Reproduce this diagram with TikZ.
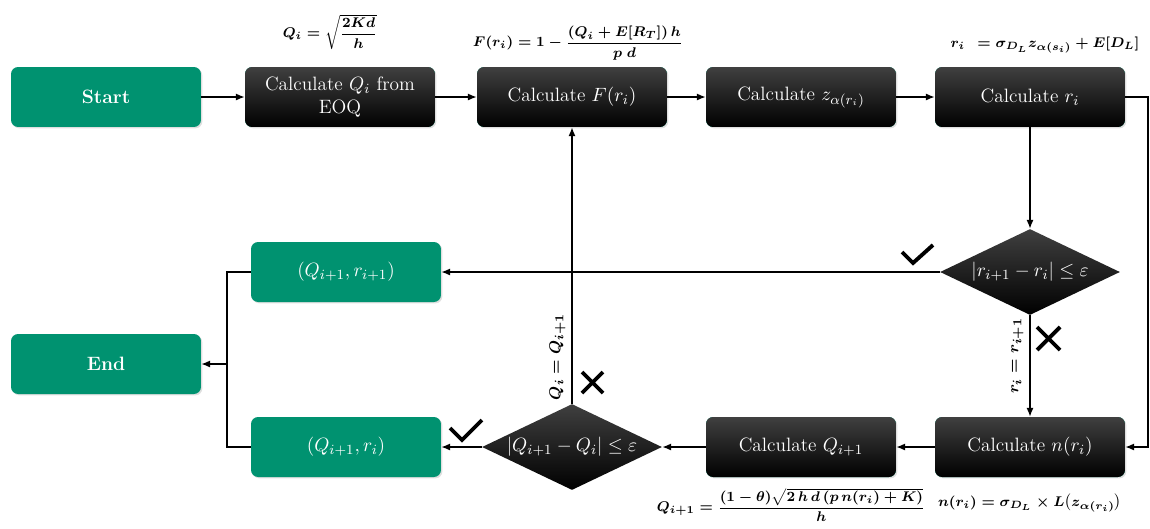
\documentclass[tikz,border=0pt]{standalone}
\usepackage{amsmath}
\usetikzlibrary{shapes.geometric,arrows.meta,shadows}
\definecolor{flowgreen}{RGB}{0,146,112}
\begin{document}
\begin{tikzpicture}[x=0.02cm,y=-0.02cm,
  term/.style={rectangle,rounded corners=4pt,fill=flowgreen,text=white,minimum width=3.8cm,minimum height=1.2cm,align=center,font=\fontsize{11}{13}\selectfont,drop shadow={opacity=0.25,shadow xshift=0.8pt,shadow yshift=-0.8pt}},
  calc/.style={term,top color=black!75,bottom color=black},
  dec/.style={diamond,aspect=2.1,minimum width=3.6cm,minimum height=1.72cm,inner sep=0pt,text=white,font=\fontsize{11}{13}\selectfont,top color=black!75,bottom color=black},
  arr/.style={-{Latex[length=5pt,width=4pt]},line width=0.7pt},
  tick/.style={line width=2.2pt},
  form/.style={font=\fontsize{8.5}{10}\selectfont\boldmath},
  lab/.style={font=\fontsize{9.5}{11}\selectfont\boldmath,rotate=90,anchor=south}]
\useasboundingbox (0,0) rectangle (1150,528);
\node[term] (start) at (106,97) {\textbf{Start}};
\node[calc] (calcq) at (340,97) {Calculate $Q_i$ from\\EOQ};
\node[calc] (calcf) at (572,97) {Calculate $F(r_i)$};
\node[calc] (calcz) at (801,97) {Calculate $z_{\alpha(r_i)}$};
\node[calc] (calcr) at (1030,97) {Calculate $r_i$};
\node[dec] (dr) at (1030,272) {$|r_{i+1}-r_i|\le\varepsilon$};
\node[term] (qrr) at (346,272) {$(Q_{i+1},r_{i+1})$};
\node[term] (endb) at (106,364) {\textbf{End}};
\node[term] (qr) at (346,447) {$(Q_{i+1},r_i)$};
\node[dec] (dq) at (572,447) {$|Q_{i+1}-Q_i|\le\varepsilon$};
\node[calc] (calcq1) at (801,447) {Calculate $Q_{i+1}$};
\node[calc] (calcn) at (1030,447) {Calculate $n(r_i)$};
\node[form] (eoq) at (330,32) {$Q_i=\sqrt{\dfrac{2Kd}{h}}$};
\node[form] (fri) at (578,43) {$F(r_i)=1-\dfrac{(Q_i+E[R_T])\,h}{p\;d}$};
\node[form] (rif) at (1045,45) {$r_i\;\,=\sigma_{D_L}z_{\alpha(s_i)}+E[D_L]$};
\node[form] (qnext) at (791,505) {$Q_{i+1}=\dfrac{(1-\theta)\sqrt{2\,h\,d\,(p\,n(r_i)+K)}}{h}$};
\node[form] (nri) at (1030,503) {$n(r_i)=\sigma_{D_L}\times L\bigl(z_{\alpha(r_i)}\bigr)$};
\coordinate (rail) at (1148,97);
\coordinate (join) at (227,364);
\draw[arr] (start) -- (calcq);
\draw[arr] (calcq) -- (calcf);
\draw[arr] (calcf) -- (calcz);
\draw[arr] (calcz) -- (calcr);
\draw[arr] (calcr.east) -- (rail) |- (calcn.east);
\draw[arr] (calcr) -- (dr);
\draw[arr] (dr) -- (qrr);
\draw[arr] (dr) -- node[lab,pos=0.4] (rlab) {$r_i=r_{i+1}$} (calcn);
\draw[arr] (calcn) -- (calcq1);
\draw[arr] (calcq1) -- (dq);
\draw[arr] (dq) -- (qr);
\draw[arr] (dq) -- node[lab,pos=0.17] (qlab) {$Q_i=Q_{i+1}$} (calcf);
\draw[arr] (qrr.west) -| (join) -- (endb.east);
\draw[line width=0.7pt] (qr.west) -| (join);
\draw[tick] (902,252) -- (913,263) -- (933,245);
\draw[tick] (450,428) -- (462,440) -- (482,420);
\draw[tick] (1037,327) -- (1060,350) (1037,350) -- (1060,327);
\draw[tick] (582,372) -- (603,393) (582,393) -- (603,372);
\end{tikzpicture}
\end{document}
